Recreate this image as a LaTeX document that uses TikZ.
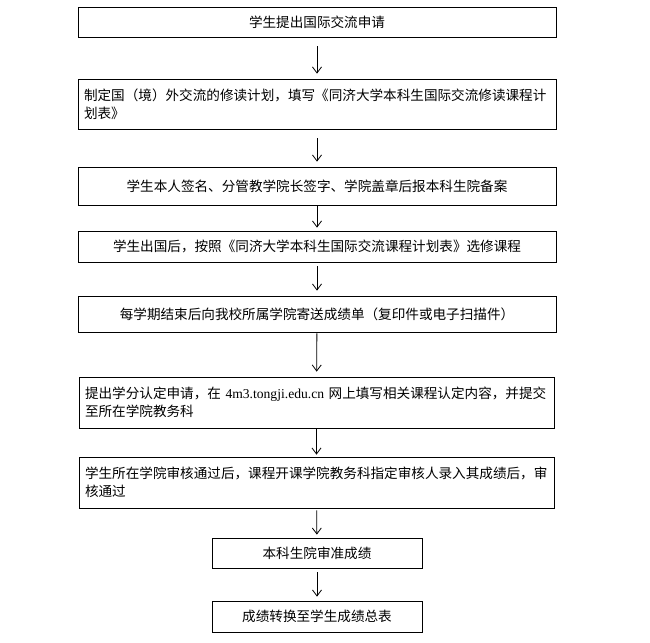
\documentclass[tikz,border=0pt]{standalone}
\usepackage{fontspec}
\setmainfont{Noto Sans CJK SC}
\newfontfamily\latinserif{Liberation Serif}
\usetikzlibrary{arrows.meta}
\begin{document}
\begin{tikzpicture}[x=1pt,y=-1pt,
  box/.style={draw,line width=0.8pt,inner sep=0pt,font=\fontsize{13.6}{18}\selectfont},
  wide/.style={box,minimum width=478pt},
  narrow/.style={box,minimum width=210pt},
  arr/.style={-{Straight Barb[length=6pt,width=9pt]},line width=0.8pt,shorten <=9pt,shorten >=5pt}]
\useasboundingbox[fill=white] (0,0) rectangle (650,642);
\node[wide,minimum height=30pt] (b1) at (317,22) {学生提出国际交流申请};
\node[wide,minimum height=50pt,text width=466pt,align=left] (b2) at (317,104) {制定国（境）外交流的修读计划，填写《同济大学本科生国际交流修读课程计\\划表》};
\node[wide,minimum height=38pt] (b3) at (317,186) {学生本人签名、分管教学院长签字、学院盖章后报本科生院备案};
\node[wide,minimum height=31pt] (b4) at (317,246.5) {学生出国后，按照《同济大学本科生国际交流课程计划表》选修课程};
\node[wide,minimum height=36pt] (b5) at (317,314) {每学期结束后向我校所属学院寄送成绩单（复印件或电子扫描件）};
\node[wide,minimum width=475pt,minimum height=51pt,text width=463pt,align=left] (b6) at (316.5,402.5) {提出学分认定申请，在 {\latinserif 4m3.tongji.edu.cn} 网上填写相关课程认定内容，并提交\\至所在学院教务科};
\node[wide,minimum width=475pt,minimum height=51pt,text width=463pt,align=left] (b7) at (316.5,482.5) {学生所在学院审核通过后，课程开课学院教务科指定审核人录入其成绩后，审\\核通过};
\node[narrow,minimum height=30pt] (b8) at (317,553) {本科生院审准成绩};
\node[narrow,minimum height=31pt] (b9) at (317,616.5) {成绩转换至学生成绩总表};
\draw[arr] (b1) -- (b2);
\draw[arr] (b2) -- (b3);
\draw[arr,shorten <=1pt,shorten >=3pt] (b3) -- (b4);
\draw[arr,shorten <=4pt] (b4) -- (b5);
\draw[arr,shorten <=1pt] (b5) -- (b6);
\draw[arr,shorten <=1pt,shorten >=2pt] (b6) -- (b7);
\draw[arr,shorten <=2pt,shorten >=3pt] (b7) -- (b8);
\draw[arr,shorten <=4pt,shorten >=4pt] (b8) -- (b9);
\end{tikzpicture}
\end{document}
